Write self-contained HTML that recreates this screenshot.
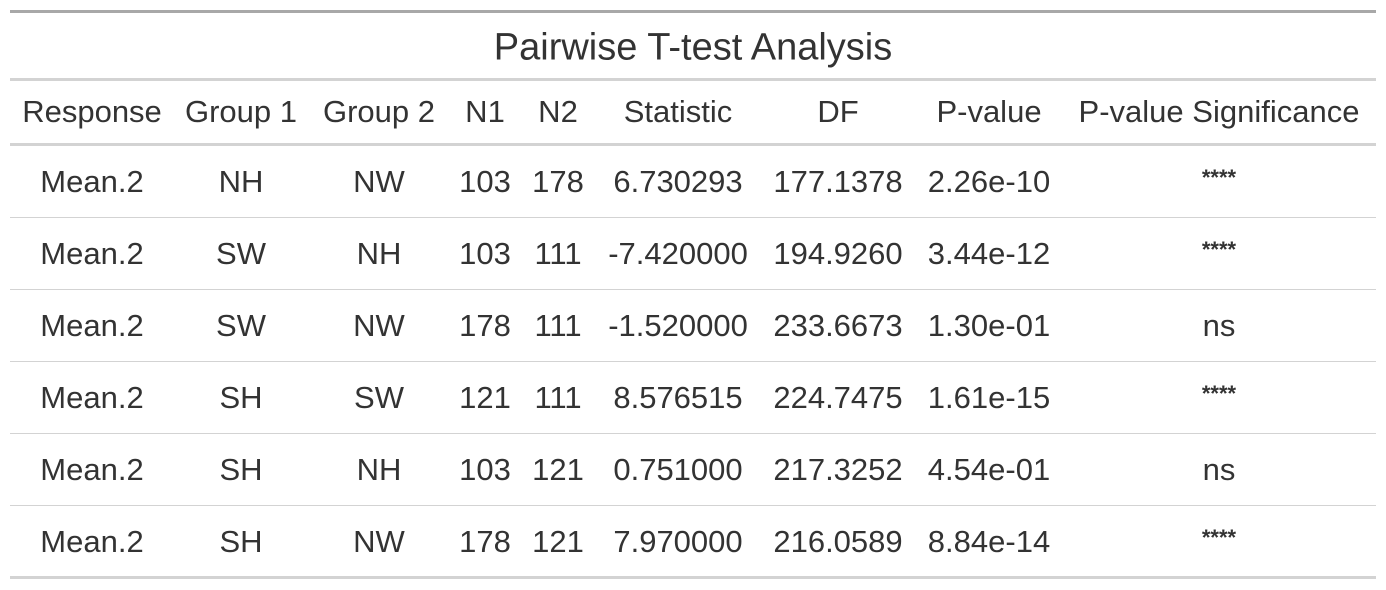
<!DOCTYPE html>
<html><head><meta charset="utf-8"><style>
body{margin:0;width:1386px;height:590px;background:#fff;position:relative;overflow:hidden;font-family:"Liberation Sans",Arial,sans-serif;color:#333}
.l{position:absolute;left:10px;width:1366px}
.t{position:absolute;white-space:nowrap;transform:translate(-50%,-50%);font-size:31px}
</style></head><body>
<div class="l" style="top:10px;height:3px;background:#a8a8a8"></div>
<div class="t" style="left:693px;top:48px;font-size:38px">Pairwise T-test Analysis</div>
<div class="l" style="top:78px;height:3px;background:#d3d3d3"></div>
<div class="l" style="top:143px;height:3px;background:#d3d3d3"></div>
<script>
const cols=[92,241,379,485,558,678,838,989,1219];
const headers=["Response","Group 1","Group 2","N1","N2","Statistic","DF","P-value","P-value Significance"];
const rows=[
["Mean.2","NH","NW","103","178","6.730293","177.1378","2.26e-10","****"],
["Mean.2","SW","NH","103","111","-7.420000","194.9260","3.44e-12","****"],
["Mean.2","SW","NW","178","111","-1.520000","233.6673","1.30e-01","ns"],
["Mean.2","SH","SW","121","111","8.576515","224.7475","1.61e-15","****"],
["Mean.2","SH","NH","103","121","0.751000","217.3252","4.54e-01","ns"],
["Mean.2","SH","NW","178","121","7.970000","216.0589","8.84e-14","****"]];
const b=document.body;
headers.forEach((h,i)=>{const d=document.createElement('div');d.className='t';d.style.left=cols[i]+'px';d.style.top='112px';d.textContent=h;


b.appendChild(d);});
rows.forEach((r,ri)=>{const y=182+ri*72;
r.forEach((v,i)=>{const d=document.createElement('div');d.className='t';d.style.left=cols[i]+'px';const st=(i==8&&v=='****');d.style.top=(st?y-4:y)+'px';d.textContent=v;if(st){d.style.fontSize='22px';d.style.fontWeight='bold';}


b.appendChild(d);});
const l=document.createElement('div');l.className='l';
if(ri<rows.length-1){l.style.top=(y+35)+'px';l.style.height='1px';}else{l.style.top='576px';l.style.height='3px';}
l.style.background='#d3d3d3';


b.appendChild(l);});
</script>
</body></html>
